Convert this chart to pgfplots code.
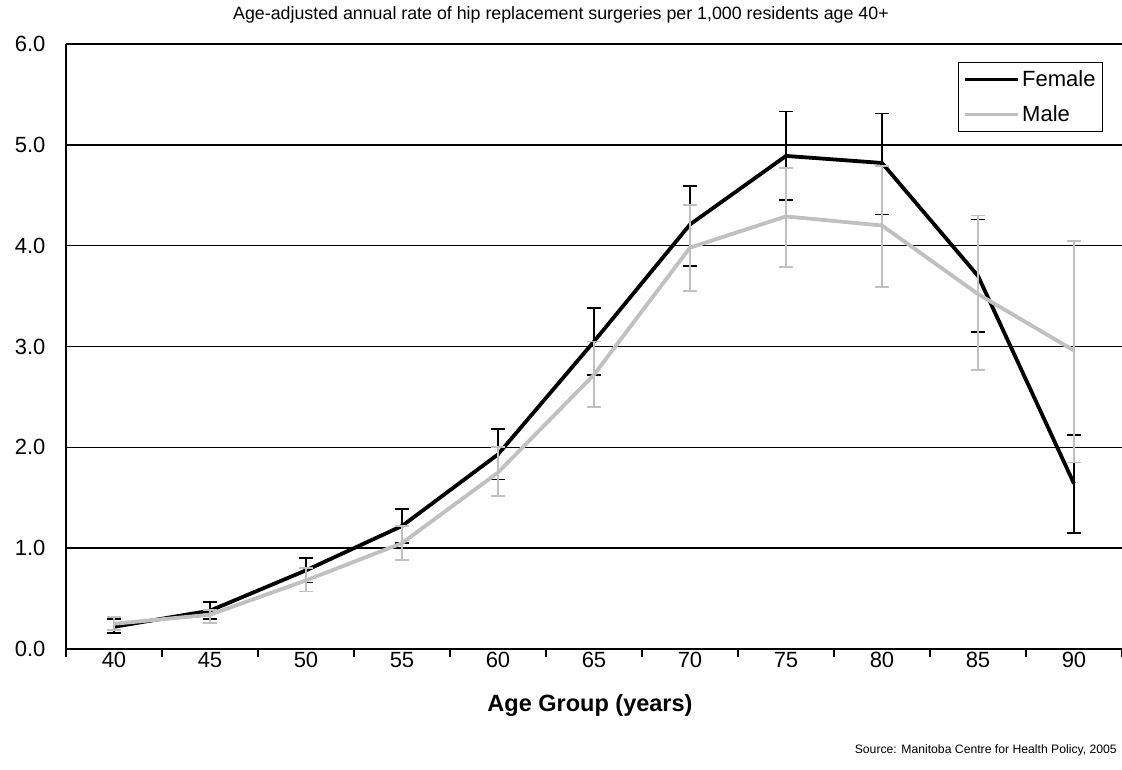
\documentclass[border=0pt]{standalone}
\usepackage{pgfplots}
\usepackage{pgfplotstable}
\pgfplotsset{compat=1.18}
\usepackage{fontspec}
\setmainfont{Liberation Sans}
\definecolor{malegray}{RGB}{192,192,192}

% age group index, rate, error plus, error minus
\pgfplotstableread{
x y ep em
0 0.22 0.08 0.06
1 0.38 0.09 0.08
2 0.78 0.12 0.12
3 1.22 0.17 0.17
4 1.93 0.25 0.25
5 3.05 0.33 0.33
6 4.21 0.38 0.41
7 4.89 0.44 0.44
8 4.82 0.49 0.51
9 3.70 0.56 0.56
10 1.64 0.48 0.49
}\female

\pgfplotstableread{
x y ep em
0 0.25 0.07 0.06
1 0.34 0.05 0.08
2 0.68 0.12 0.11
3 1.05 0.17 0.17
4 1.75 0.25 0.23
5 2.72 0.33 0.32
6 3.98 0.42 0.43
7 4.29 0.48 0.50
8 4.20 0.59 0.61
9 3.52 0.78 0.75
10 2.96 1.09 1.11
}\male

\begin{document}
\begin{tikzpicture}
\path[use as bounding box] (-66pt,-121pt) rectangle (1056pt,649pt);
\begin{axis}[
    scale only axis,
    width=1056pt, height=605pt,
    xmin=-0.5, xmax=10.5, ymin=0, ymax=6,
    axis x line*=bottom, axis y line*=left,
    axis line style={black, line width=2pt},
    xtick={0,...,10},
    xticklabels={40,45,50,55,60,65,70,75,80,85,90},
    major x tick style={draw=none},
    minor xtick={-0.5,0.5,...,10.5},
    minor x tick style={black, line width=1.2pt},
    minor tick length=8pt,
    major tick length=0pt,
    tick align=outside,
    ytick={0,1,...,6},
    y tick style={draw=none},
    ymajorgrids,
    major y grid style={black, line width=1.6pt},
    y tick label style={/pgf/number format/fixed, /pgf/number format/fixed zerofill,
        /pgf/number format/precision=1, /pgf/number format/assume math mode=true},
    tick label style={font=\fontsize{22}{26}\selectfont},
    yticklabel style={xshift=-17pt},
    xticklabel style={text height=16pt, text depth=0pt, inner sep=0pt, anchor=north, yshift=-2pt},
    legend style={at={(rel axis cs:0.982,0.970)}, anchor=north east,
        draw=black, line width=0.8pt, font=\fontsize{22}{26}\selectfont,
        inner xsep=5pt, inner ysep=6pt, row sep=14pt},
    legend cell align=left,
    legend image code/.code={\draw[#1, line width=3.5pt] (0pt,0pt) -- (53pt,0pt);},
]
\addplot[black, line width=3.8pt,
    error bars/.cd, y dir=both, y explicit, error mark=|,
    error bar style={black, line width=1.8pt},
    error mark options={black, line width=1.8pt, mark size=7pt}]
    table[x=x, y=y, y error plus=ep, y error minus=em] {\female};
\addlegendentry{Female}
\addplot[malegray, line width=3.8pt,
    error bars/.cd, y dir=both, y explicit, error mark=|,
    error bar style={malegray, line width=1.8pt},
    error mark options={malegray, line width=1.8pt, mark size=7pt}]
    table[x=x, y=y, y error plus=ep, y error minus=em] {\male};
\addlegendentry{Male}
\end{axis}
\node[font=\fontsize{17.8}{21}\selectfont] at (495pt,634pt)
    {Age-adjusted annual rate of hip replacement surgeries per 1,000 residents age 40+};
\node[font=\fontsize{23.5}{28}\selectfont\bfseries] at (524pt,-56pt) {Age Group (years)};
\node[font=\fontsize{12.2}{15}\selectfont, anchor=east, inner sep=0pt] at (1051pt,-101pt)
    {Source: Manitoba Centre for Health Policy, 2005};
\end{tikzpicture}
\end{document}
